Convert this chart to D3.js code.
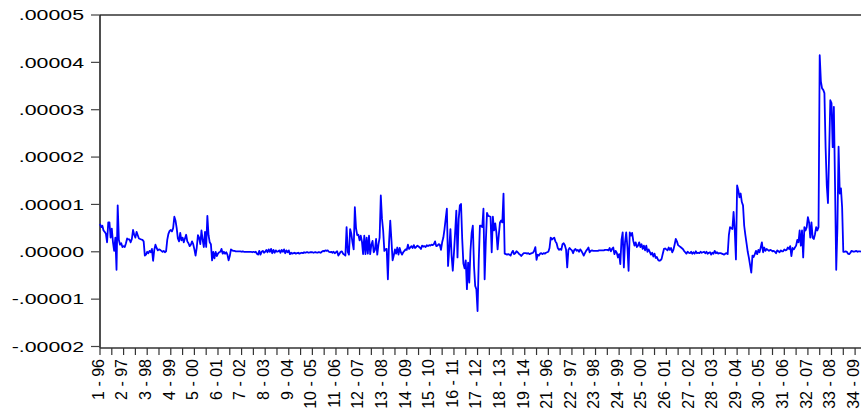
<!DOCTYPE html>
<html>
<head>
<meta charset="utf-8">
<script src="https://cdn.jsdelivr.net/npm/d3@7"></script>
<style>
  body { margin: 0; background: #fff; }
  svg { display: block; font-family: "Liberation Sans", Arial, sans-serif; }
</style>
</head>
<body>
<div id="chart"></div>
<script>
// panel series, 34 cross sections x 19 years (1996-2014), values in 1e-6
const series = [
  [5.9, 5.2, 5.5, 4.5, 4.2, 3.8, 2.0, 6.2, 6.2, 3.0, 4.9, 2.0, 0.2, 3.0, -3.8, 9.8, 2.5, 1.5, 1.8],
  [1.0, 1.2, 1.0, 1.8, 2.8, 2.6, 2.6, 2.0, 2.7, 4.6, 3.6, 3.0, 4.2, 3.5, 2.8, 2.7, 2.6, 2.5, 2.2],
  [-0.8, -0.6, 0.0, -0.3, 0.2, -0.1, 0.6, -1.9, 0.4, 1.5, 0.8, 0.3, 0.5, 0.4, 0.2, 0.0, 0.2, -0.1, 0.1],
  [2.5, 3.8, 4.4, 4.6, 4.3, 5.0, 7.4, 6.6, 5.0, 2.8, 2.2, 4.0, 2.4, 3.0, 2.0, 2.8, 3.6, 2.2, 1.8],
  [1.2, 1.5, 2.2, 1.6, 0.5, -0.8, 0.9, 3.5, 3.0, 1.6, 4.5, 2.5, 1.0, 4.2, 1.0, 7.6, 3.5, 2.0, 1.6],
  [-1.8, 0.0, -1.4, 0.0, -0.9, -0.4, -0.1, 0.0, 0.6, -0.4, 0.0, -0.4, -0.1, -0.6, -1.8, -0.9, 0.5, 0.3, 0.2],
  [0.2, 0.1, 0.1, 0.1, 0.1, 0.1, 0.0, 0.1, 0.0, 0.0, 0.0, 0.0, 0.0, 0.0, 0.0, -0.1, 0.0, -0.1, 0.0],
  [-0.4, -0.6, 0.2, -0.6, 0.0, 0.2, -0.2, 0.0, 0.4, -0.1, 0.5, 0.0, 0.6, -0.3, 0.4, -0.2, 0.3, 0.0, 0.1],
  [0.3, -0.2, 0.4, 0.0, 0.5, -0.3, 0.3, -0.1, 0.3, -0.5, -0.2, -0.4, -0.3, -0.2, -0.4, -0.3, -0.2, -0.4, -0.3],
  [-0.2, -0.3, -0.1, -0.2, -0.1, -0.1, -0.2, -0.1, -0.1, -0.1, -0.2, -0.1, -0.1, -0.2, -0.1, -0.1, -0.2, 0.0, 0.2],
  [0.1, 0.3, 0.2, 0.3, 0.0, -0.1, 0.0, -0.2, 0.0, -0.3, -0.1, 0.1, -0.8, -0.4, 0.0, 0.1, -0.4, -0.6, -0.8],
  [5.2, 0.0, -0.6, 4.8, 3.8, 2.0, 0.5, 9.4, 5.0, 3.5, 3.6, 2.4, 3.4, 2.2, -0.5, 3.4, -0.5, 3.0, -0.4],
  [3.4, -0.5, 1.5, 2.3, -0.1, 0.4, 2.7, -0.6, 1.5, 3.0, 11.9, 7.0, 4.5, 0.2, 0.5, 0.6, -5.8, 2.0, 6.6],
  [2.5, -1.8, -0.8, 0.5, -0.4, 0.9, -0.6, 0.8, -0.1, -0.6, -0.1, 0.2, 0.5, 0.4, 1.5, 0.6, 0.9, 1.2, 0.8],
  [1.4, 0.8, 1.0, 1.3, 1.1, 0.9, 0.6, 1.3, 1.1, 1.2, 1.0, 1.4, 1.2, 1.4, 1.3, 1.5, 1.4, 1.6, 2.2],
  [1.2, 1.3, 1.6, 1.5, 0.4, 2.0, 3.0, 4.8, 7.0, 9.1, -3.0, 0.6, 4.8, -0.8, -4.0, -0.2, 4.0, 8.7, -1.2],
  [6.9, 9.8, 10.1, 2.7, -2.5, -3.5, -1.8, -7.9, -2.3, -6.5, 0.2, 4.0, 5.5, -3.0, -7.2, -7.9, -12.5, -2.0, 5.5],
  [5.5, 5.2, 9.1, -5.8, 2.0, 8.2, 7.6, 7.5, 7.4, -0.1, 7.4, 4.5, 6.0, 4.0, 0.5, 3.5, 6.2, 6.6, 6.2],
  [12.3, -0.4, -0.5, -0.6, -0.5, -0.6, -0.8, -0.2, 0.2, -0.5, -0.3, 0.1, -0.1, -0.4, -0.6, -0.9, -0.6, -0.3, -0.3],
  [-0.3, -0.4, -0.3, -0.5, -0.4, -0.3, -0.2, 0.2, 1.0, -1.7, -0.6, -0.8, -0.4, -0.3, -0.5, -0.3, -0.4, -0.2, -0.1],
  [0.0, 0.8, 3.0, 2.6, 2.8, 3.0, 2.2, 1.8, 0.8, 0.4, 0.6, 0.4, 1.6, 1.8, 1.4, 0.5, -3.3, 0.4, 0.8],
  [0.5, 0.3, -0.3, 0.4, 0.6, 0.2, 0.4, 0.0, 0.5, 0.2, -0.3, -0.8, -0.3, 0.2, 0.5, 0.9, -0.1, 0.2, 0.3],
  [0.2, 0.2, 0.2, 0.2, 0.2, 0.3, 0.3, 0.3, 0.3, 0.3, 0.4, 0.4, 0.4, 0.3, 0.8, 0.1, 0.6, 0.9, -0.5],
  [0.2, -0.2, -1.2, -0.5, -2.6, 2.5, 4.1, -3.3, 2.0, 4.1, 1.0, -4.0, 4.1, 3.4, 4.0, 2.3, 1.3, 2.0, 1.0],
  [1.3, 2.0, 1.0, 1.6, 0.6, 1.3, 0.3, 1.3, 0.0, 0.5, 0.0, -0.6, -0.2, -1.0, -0.4, -1.3, -1.1, -1.7, -1.9],
  [-1.8, -1.5, -0.4, 0.6, 0.7, 0.5, 0.3, 0.9, 0.4, 0.8, -0.1, 0.4, 1.5, 2.7, 2.2, 1.4, 1.2, 1.0, 0.8],
  [0.6, 0.2, -0.1, -0.4, 0.0, -0.2, -0.3, 0.0, -0.4, -0.1, -0.4, 0.1, -0.3, -0.2, -0.3, 0.0, -0.2, -0.1, 0.0],
  [-0.3, 0.0, -0.4, -0.2, -0.1, -0.6, -0.2, -0.4, 0.2, -0.3, -0.1, -0.4, -0.3, -0.3, -0.4, -0.5, -0.6, -0.4, -0.3],
  [-0.5, 3.5, 5.2, 5.0, 4.8, 8.4, 4.5, -1.6, 14.0, 13.0, 11.5, 12.3, 10.5, 9.8, 5.5, 3.5, 1.8, 0.0, -1.3],
  [-2.8, -4.4, -0.8, -1.1, -0.5, 0.2, -0.5, 0.4, -0.1, 0.9, 2.0, -0.1, 0.9, 0.2, 0.6, 0.4, 0.2, 0.4, 0.3],
  [0.1, 0.2, 0.0, -0.3, 0.3, 0.1, -0.1, 0.3, 0.1, 0.1, 0.5, 0.3, 0.4, 0.9, 0.6, 1.2, -0.9, 0.8, 0.5],
  [0.9, 1.3, 2.5, 2.0, 4.5, 1.3, 4.5, -1.2, 5.2, 4.5, 5.2, 7.3, 6.2, 3.0, 6.2, 3.0, 2.7, 3.7, 5.2],
  [4.5, 5.2, 41.5, 36.0, 34.5, 34.2, 33.5, 22.0, 14.0, 10.3, 21.0, 32.0, 31.4, 22.1, 30.6, 14.0, -3.8, 5.0, 22.2],
  [12.3, 13.4, 9.4, 0.0, 0.0, 0.1, 0.0, -0.4, -0.5, -0.2, 0.2, 0.1, 0.0, 0.1, 0.2, 0.0, 0.1, 0.1, 0.0]
];

// x labels, one every 20 observations
const tickLabels = [
  "1 - 96", "2 - 97", "3 - 98", "4 - 99", "5 - 00", "6 - 01", "7 - 02", "8 - 03",
  "9 - 04", "10 - 05", "11 - 06", "12 - 07", "13 - 08", "14 - 09", "15 - 10",
  "16 - 11", "17 - 12", "18 - 13", "19 - 14", "21 - 96", "22 - 97", "23 - 98",
  "24 - 99", "25 - 00", "26 - 01", "27 - 02", "28 - 03", "29 - 04", "30 - 05",
  "31 - 06", "32 - 07", "33 - 08", "34 - 09"
];
const labelStep = 20, tickStep = 10;

// y ticks in 1e-6
const yTicks = [-20, -10, 0, 10, 20, 30, 40, 50];

const values = series.flat();

const width = 861, height = 415;
const plotLeft = 100, plotRight = 861, plotTop = 15, plotBottom = 346.5, frameBottom = 348;

const x = d3.scaleLinear().domain([0, values.length - 1]).range([plotLeft, plotRight]);
const y = d3.scaleLinear().domain([-20, 50]).range([plotBottom, plotTop]);

const svg = d3.select("#chart")
  .append("svg")
  .attr("width", width)
  .attr("height", height);

// frame: top and left, bottom axis
svg.append("line")
  .attr("x1", plotLeft).attr("x2", plotRight)
  .attr("y1", plotTop).attr("y2", plotTop)
  .attr("stroke", "#333").attr("stroke-width", 1.6);
svg.append("line")
  .attr("x1", plotLeft).attr("x2", plotLeft)
  .attr("y1", plotTop).attr("y2", frameBottom)
  .attr("stroke", "#222").attr("stroke-width", 1.6);
svg.append("line")
  .attr("x1", plotLeft).attr("x2", plotRight)
  .attr("y1", frameBottom).attr("y2", frameBottom)
  .attr("stroke", "#333").attr("stroke-width", 1.6);

// y ticks and labels
svg.append("g")
  .selectAll("line")
  .data(yTicks)
  .join("line")
  .attr("x1", plotLeft - 9).attr("x2", plotLeft)
  .attr("y1", d => y(d)).attr("y2", d => y(d))
  .attr("stroke", "#444").attr("stroke-width", 1.2);

svg.append("g")
  .attr("font-size", 14.5)
  .attr("text-anchor", "end")
  .selectAll("text")
  .data(yTicks)
  .join("text")
  .attr("transform", d => `translate(84,${y(d)}) scale(1.47,1)`)
  .attr("dy", "0.36em")
  .attr("fill", "#000")
  .text(d => (d / 1e6).toFixed(5).replace("0.", "."));

// x ticks
svg.append("g")
  .selectAll("line")
  .data(d3.range(0, values.length, tickStep))
  .join("line")
  .attr("x1", d => x(d)).attr("x2", d => x(d))
  .attr("y1", frameBottom).attr("y2", frameBottom + 7)
  .attr("stroke", "#333").attr("stroke-width", 1.2);

// x labels, rotated
svg.append("g")
  .attr("font-size", 16)
  .attr("text-anchor", "end")
  .selectAll("text")
  .data(tickLabels)
  .join("text")
  .attr("transform", (d, i) => `translate(${x(i * labelStep) - 2},359) rotate(-90)`)
  .attr("dy", "0.36em")
  .attr("fill", "#000")
  .text(d => d);

// the series
const line = d3.line()
  .x((d, i) => x(i))
  .y(d => y(d));

svg.append("path")
  .datum(values)
  .attr("fill", "none")
  .attr("stroke", "#0000ff")
  .attr("stroke-width", 1.8)
  .attr("stroke-linejoin", "round")
  .attr("d", line);
</script>
</body>
</html>
